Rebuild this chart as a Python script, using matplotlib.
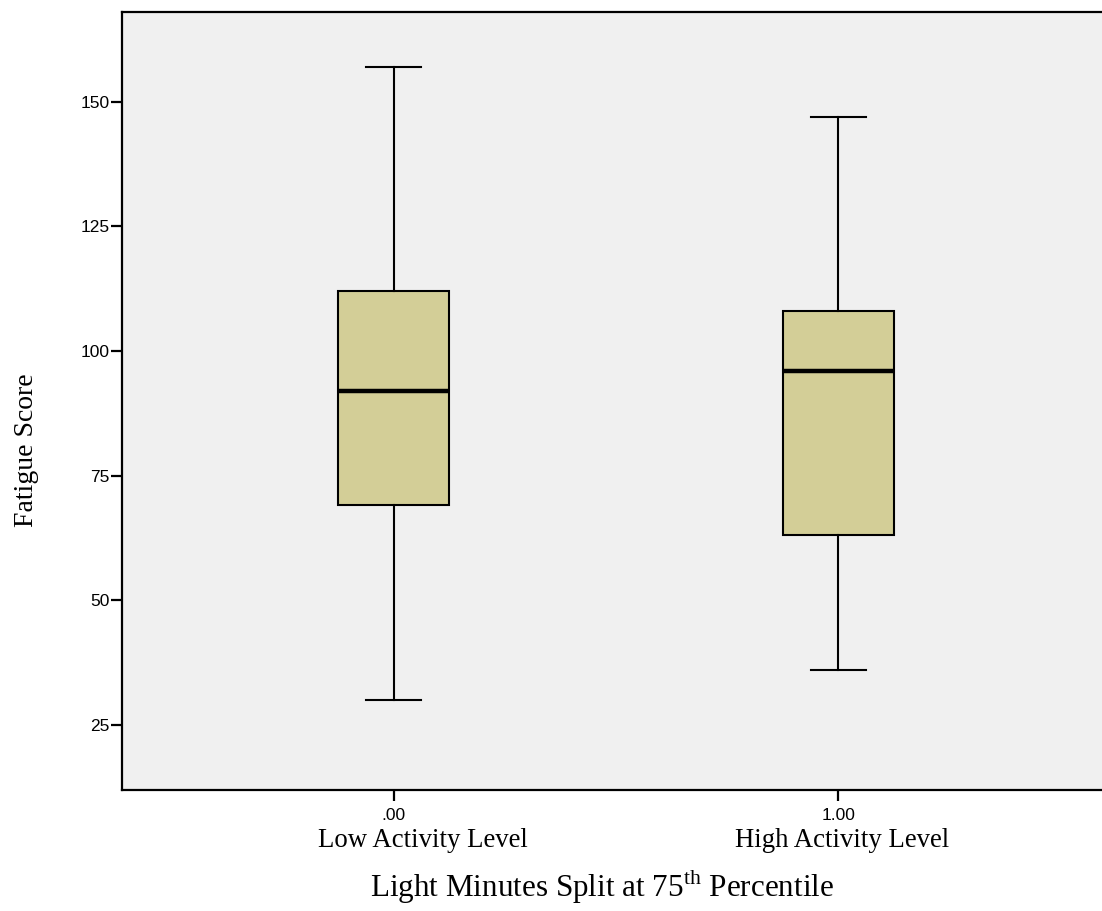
import matplotlib
matplotlib.use("Agg")
import matplotlib.pyplot as plt
from matplotlib.transforms import blended_transform_factory

plt.rcParams['mathtext.fontset'] = 'custom'
plt.rcParams['mathtext.rm'] = 'Liberation Serif'

# values
codes = ['.00', '1.00']
groups = ['Low Activity Level', 'High Activity Level']
whisker_low = [30, 36]
q1 = [69, 63]
medians = [92, 96]
q3 = [112, 108]
whisker_high = [157, 147]
yticks = [25, 50, 75, 100, 125, 150]

stats = []
for i in range(len(codes)):
    stats.append({'whislo': whisker_low[i], 'q1': q1[i], 'med': medians[i],
                  'q3': q3[i], 'whishi': whisker_high[i], 'fliers': []})

fig = plt.figure(figsize=(11.02, 9.11), dpi=100)
ax = fig.add_axes([122/1102, 121/911, 988/1102, 778/911])
ax.set_facecolor('#F0F0F0')

pos = [1, 2]
ax.bxp(stats, positions=pos, widths=0.25, capwidths=0.124, patch_artist=True,
       showfliers=False,
       boxprops=dict(facecolor='#D3CE97', edgecolor='black', linewidth=1.5),
       medianprops=dict(color='black', linewidth=3.2),
       whiskerprops=dict(color='black', linewidth=1.5),
       capprops=dict(color='black', linewidth=1.5))

ax.set_xlim(1 - 272/444.8, 2 + 272/444.8)
ax.set_ylim(11.9, 168)
ax.set_yticks(yticks)
ax.set_xticks(pos, codes)

for s in ax.spines.values():
    s.set_linewidth(1.6)
ax.tick_params(axis='both', direction='out', length=8, width=1.6,
               labelsize=12.5, labelfontfamily='Liberation Sans')
ax.tick_params(axis='y', pad=1)
ax.tick_params(axis='x', pad=5)

# group names sit a little right of the ticks in the original
trans = blended_transform_factory(ax.transData, fig.transFigure)
shifts = [29, 4]
for p, g, dx in zip(pos, groups, shifts):
    ax.annotate(g, xy=(p, 1 - 847/911), xycoords=trans, xytext=(dx, 0),
                textcoords='offset pixels', ha='center', va='baseline',
                fontsize=19.3, family='Liberation Serif', annotation_clip=False)

fig.text(602/1102, 1 - 897/911, 'Light Minutes Split at 75$^{\\mathrm{th}}$ Percentile',
         ha='center', va='baseline', fontsize=22.4, family='Liberation Serif')
fig.text(27/1102, 1 - 450/911, 'Fatigue Score', rotation=90, ha='center', va='center',
         fontsize=20, family='Liberation Serif')

fig.savefig('out.png', dpi=100)
